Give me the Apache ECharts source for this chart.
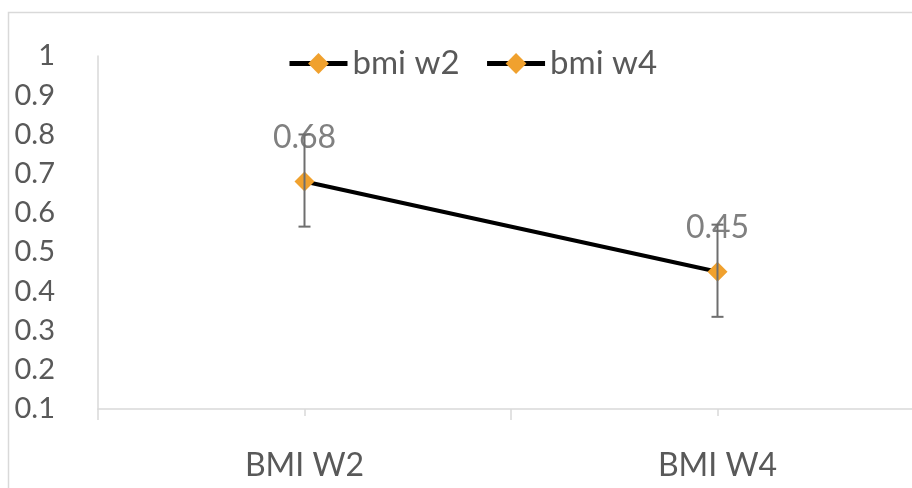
<!DOCTYPE html>
<html>
<head>
<meta charset="utf-8">
<script src="https://cdn.jsdelivr.net/npm/echarts@6/dist/echarts.min.js"></script>
<style>
html,body{margin:0;padding:0;background:#fff;}
#c{width:912px;height:488px;}
</style>
</head>
<body>
<div id="c"></div>
<script>
const categories = ['BMI W2', 'BMI W4'];
const seriesNames = ['bmi w2', 'bmi w4'];
const meanValues = [0.68, 0.45];
const errLow = [0.565, 0.335];
const errHigh = [0.80, 0.57];
const yTicks = { min: 0.1, max: 1, interval: 0.1 };

const chart = echarts.init(document.getElementById('c'), null, { renderer: 'canvas' });
const FONT = 'Lato';
const orange = '#F0A12E';

const option = {
  backgroundColor: '#fff',
  animation: false,
  graphic: [{
    type: 'rect',
    shape: { x: 8.5, y: 12.5, width: 920, height: 490 },
    style: { fill: 'none', stroke: '#d9d9d9', lineWidth: 1.5 },
    silent: true,
    z: -10
  }],
  legend: {
    data: seriesNames,
    top: 42,
    left: 282,
    itemWidth: 58,
    itemHeight: 26,
    itemGap: 25,
    lineStyle: { width: 5, color: '#000' },
    textStyle: { fontFamily: FONT, fontSize: 33, color: '#595959' }
  },
  grid: { left: 98, top: 56, width: 826, height: 353, containLabel: false, outerBoundsMode: 'none' },
  xAxis: [{
    type: 'category',
    data: categories,
    boundaryGap: true,
    axisLine: { lineStyle: { color: '#d9d9d9', width: 1.5 } },
    axisTick: { show: true, length: 11, lineStyle: { color: '#d9d9d9', width: 1.5 } },
    axisLabel: { margin: 41, fontFamily: FONT, fontSize: 32, color: '#595959' }
  }, {
    type: 'category',
    data: categories,
    position: 'bottom',
    boundaryGap: true,
    axisLine: { show: false },
    axisTick: { show: true, alignWithLabel: true, length: 7, lineStyle: { color: '#d9d9d9', width: 1.5 } },
    axisLabel: { show: false }
  }],
  yAxis: {
    type: 'value',
    min: yTicks.min,
    max: yTicks.max,
    interval: yTicks.interval,
    axisLine: { show: true, lineStyle: { color: '#d9d9d9', width: 1.5 } },
    axisTick: { show: false },
    splitLine: { show: false },
    axisLabel: { margin: 43, fontFamily: FONT, fontSize: 29, color: '#595959',
      formatter: v => String(Math.round(v * 10) / 10) }
  },
  series: [
    {
      name: seriesNames[0],
      type: 'line',
      data: meanValues,
      lineStyle: { color: '#000', width: 4 },
      itemStyle: { color: orange },
      symbol: 'diamond',
      symbolSize: 20,
      z: 3,
      label: {
        show: true,
        position: 'top',
        distance: 18,
        fontFamily: FONT,
        fontSize: 32,
        color: '#808080',
        formatter: p => p.value.toFixed(2)
      }
    },
    {
      name: seriesNames[1],
      type: 'line',
      data: [],
      lineStyle: { color: '#000', width: 4 },
      itemStyle: { color: orange },
      symbol: 'diamond',
      symbolSize: 20
    },
    {
      type: 'custom',
      name: 'err',
      z: 4,
      data: categories.map((c, i) => [i, errLow[i], errHigh[i]]),
      renderItem: function (params, api) {
        const lo = api.coord([api.value(0), api.value(1)]);
        const hi = api.coord([api.value(0), api.value(2)]);
        const hw = 6;
        const st = { stroke: '#6e6e6e', lineWidth: 2, fill: 'none' };
        return {
          type: 'group',
          children: [
            { type: 'line', shape: { x1: lo[0], y1: lo[1], x2: hi[0], y2: hi[1] }, style: st },
            { type: 'line', shape: { x1: lo[0] - hw, y1: lo[1], x2: lo[0] + hw, y2: lo[1] }, style: st },
            { type: 'line', shape: { x1: hi[0] - hw, y1: hi[1], x2: hi[0] + hw, y2: hi[1] }, style: st }
          ]
        };
      },
      encode: { x: 0, y: [1, 2] },
      silent: true
    }
  ]
};
chart.setOption(option);
</script>
</body>
</html>
